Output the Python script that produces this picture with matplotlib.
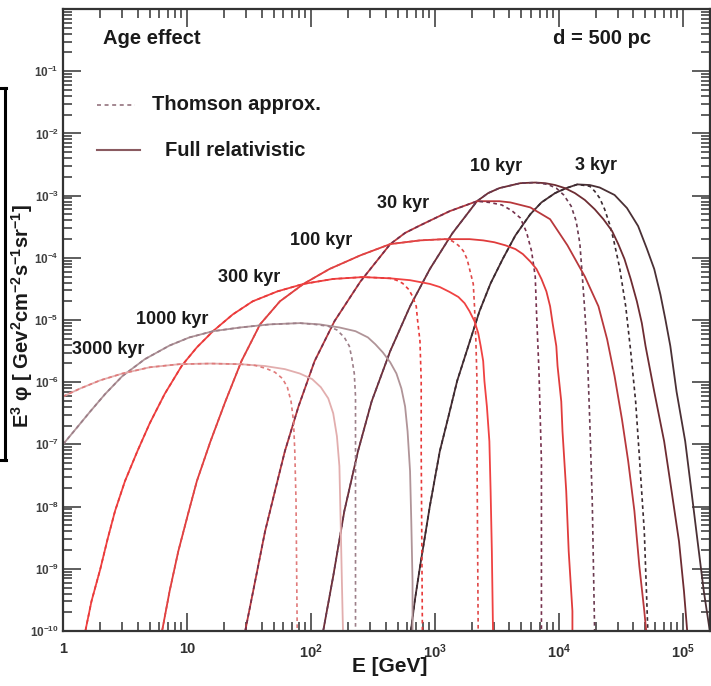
import numpy as np
import matplotlib
matplotlib.use('Agg')
import matplotlib.pyplot as plt
from matplotlib.lines import Line2D
from matplotlib.ticker import LogLocator, NullFormatter

plt.rcParams['font.family'] = ['Liberation Sans', 'DejaVu Sans']
plt.rcParams['font.weight'] = 'bold'
plt.rcParams['mathtext.fontset'] = 'custom'
plt.rcParams['mathtext.rm'] = 'Liberation Sans:bold'
plt.rcParams['mathtext.it'] = 'Liberation Sans:bold'
plt.rcParams['mathtext.bf'] = 'Liberation Sans:bold'
plt.rcParams['mathtext.default'] = 'rm'

# digitised curves: log10(E / GeV) and log10(E^3 phi)
# "rise" is common to both calculations, "full" = Klein-Nishina tail, "thom" = Thomson tail

# 3 kyr
lgE_3_rise = [2.80, 2.84, 2.88, 2.96, 3.04, 3.11, 3.18, 3.27, 3.36, 3.45, 3.55, 3.65, 3.77, 3.86, 3.97, 4.06, 4.15]
lgF_3_rise = [-10.1, -9.49, -8.97, -7.99, -7.11, -6.55, -5.98, -5.42, -4.86, -4.41, -4.01, -3.64, -3.30, -3.11,
              -2.96, -2.88, -2.82]
lgE_3_full = [4.25, 4.33, 4.45, 4.55, 4.64, 4.71, 4.77, 4.82, 4.86, 4.90, 4.95, 5.02, 5.07, 5.12, 5.17, 5.22, 5.25]
lgF_3_full = [-2.83, -2.87, -2.99, -3.20, -3.49, -3.85, -4.18, -4.59, -4.99, -5.42, -6.15, -6.95, -7.75, -8.56,
              -9.36, -10.02, -10.5]
lgE_3_thom = [4.25, 4.29, 4.33, 4.37, 4.41, 4.44, 4.49, 4.54, 4.58, 4.62, 4.65, 4.69, 4.71, 4.72]
lgF_3_thom = [-2.85, -2.93, -3.04, -3.22, -3.46, -3.69, -4.15, -4.78, -5.50, -6.31, -7.19, -8.40, -9.52, -10.1]

# 10 kyr
lgE_10_rise = [2.09, 2.18, 2.27, 2.38, 2.49, 2.64, 2.80, 2.96, 3.14, 3.34, 3.43, 3.52, 3.69, 3.81]
lgF_10_rise = [-10.1, -9.12, -8.07, -7.11, -6.31, -5.50, -4.78, -4.18, -3.61, -3.09, -2.96, -2.88, -2.80, -2.79]
lgE_10_full = [3.89, 3.97, 4.05, 4.13, 4.21, 4.29, 4.36, 4.43, 4.48, 4.53, 4.58, 4.63, 4.67, 4.70, 4.77, 4.85,
               4.91, 4.97, 5.01, 5.04]
lgF_10_full = [-2.80, -2.83, -2.88, -2.96, -3.07, -3.22, -3.38, -3.57, -3.78, -4.02, -4.34, -4.70, -5.05, -5.42,
               -6.15, -6.95, -7.75, -8.56, -9.36, -10.1]
lgE_10_thom = [3.91, 3.98, 4.04, 4.10, 4.14, 4.17, 4.19, 4.21, 4.23, 4.25, 4.27, 4.29]
lgF_10_thom = [-2.82, -2.88, -2.99, -3.17, -3.41, -3.77, -4.30, -4.86, -5.50, -6.63, -7.91, -10.1]

# 30 kyr
lgE_30_rise = [1.46, 1.55, 1.63, 1.71, 1.79, 1.90, 2.03, 2.19, 2.40, 2.64, 2.76, 2.88, 3.12, 3.34]
lgF_30_rise = [-10.1, -9.20, -8.40, -7.75, -7.11, -6.39, -5.66, -5.02, -4.38, -3.78, -3.60, -3.48, -3.25, -3.09]
lgE_30_full = [3.52, 3.61, 3.77, 3.93, 4.07, 4.21, 4.32, 4.39, 4.45, 4.51, 4.56, 4.61, 4.65, 4.69, 4.71]
lgF_30_full = [-3.09, -3.11, -3.19, -3.38, -3.80, -4.30, -4.78, -5.31, -5.90, -6.60, -7.27, -8.07, -8.96, -9.68,
               -10.1]
lgE_30_thom = [3.44, 3.54, 3.62, 3.69, 3.74, 3.78, 3.81, 3.82, 3.84, 3.86, 3.86]
lgF_30_thom = [-3.11, -3.15, -3.24, -3.36, -3.59, -3.89, -4.30, -4.86, -5.82, -7.27, -10.1]

# 100 kyr
lgE_100_rise = [0.79, 0.86, 0.93, 1.01, 1.08, 1.19, 1.31, 1.44, 1.59, 1.75, 1.94, 2.15, 2.40, 2.64, 2.88, 3.08]
lgF_100_rise = [-10.1, -9.36, -8.72, -8.11, -7.59, -6.95, -6.31, -5.66, -5.07, -4.70, -4.42, -4.18, -3.96, -3.78,
                -3.72, -3.70]
lgE_100_full = [3.28, 3.39, 3.48, 3.57, 3.65, 3.71, 3.77, 3.82, 3.86, 3.90, 3.93, 3.95, 3.98, 3.99, 4.02, 4.03,
                4.06, 4.08, 4.11, 4.11]
lgF_100_full = [-3.70, -3.72, -3.75, -3.80, -3.86, -3.94, -4.06, -4.18, -4.34, -4.54, -4.78, -5.05, -5.42, -5.74,
                -6.31, -6.79, -7.75, -8.72, -9.68, -10.1]
lgE_100_thom = [3.14, 3.19, 3.23, 3.26, 3.28, 3.31, 3.32, 3.33, 3.34, 3.34, 3.35]
lgF_100_thom = [-3.73, -3.80, -3.89, -4.02, -4.18, -4.42, -4.78, -5.26, -5.98, -7.11, -10.1]

# 300 kyr
lgE_300_rise = [0.17, 0.23, 0.30, 0.36, 0.42, 0.50, 0.60, 0.70, 0.82, 0.96, 1.08, 1.21, 1.37,
                1.53, 1.73, 1.94, 2.18, 2.42, 2.64]
lgF_300_rise = [-10.1, -9.52, -9.01, -8.52, -8.07, -7.59, -7.11, -6.66, -6.19, -5.73, -5.44, -5.18, -4.91,
                -4.70, -4.54, -4.42, -4.34, -4.31, -4.33]
lgE_300_full = [2.80, 2.96, 3.04, 3.12, 3.19, 3.24, 3.28, 3.32, 3.35, 3.37, 3.39, 3.40, 3.42, 3.44, 3.45, 3.46, 3.47]
lgF_300_full = [-4.36, -4.42, -4.47, -4.55, -4.63, -4.73, -4.86, -5.02, -5.21, -5.42, -5.66, -5.98, -6.39, -6.95,
                -7.75, -8.72, -10.1]
lgE_300_thom = [2.69, 2.74, 2.79, 2.82, 2.85, 2.86, 2.88, 2.89, 2.89, 2.90]
lgF_300_thom = [-4.36, -4.41, -4.51, -4.62, -4.78, -4.99, -5.34, -5.98, -7.11, -10.1]

# 1000 kyr
lgE_1000_rise = [0.0, 0.10, 0.22, 0.34, 0.48, 0.66, 0.86, 1.02, 1.21, 1.43, 1.67, 1.91]
lgF_1000_rise = [-7.00, -6.76, -6.47, -6.19, -5.90, -5.63, -5.41, -5.28, -5.18, -5.12, -5.07, -5.05]
lgE_1000_full = [2.07, 2.23, 2.36, 2.46, 2.52, 2.58, 2.64, 2.69, 2.73, 2.76, 2.78, 2.80, 2.81, 2.82, 2.82]
lgF_1000_full = [-5.07, -5.12, -5.18, -5.28, -5.39, -5.52, -5.68, -5.86, -6.10, -6.39, -6.79, -7.43, -8.24, -9.20,
                 -10.1]
lgE_1000_thom = [2.03, 2.14, 2.21, 2.27, 2.31, 2.33, 2.35, 2.36, 2.36, 2.36]
lgF_1000_thom = [-5.07, -5.10, -5.16, -5.28, -5.42, -5.61, -5.86, -6.23, -6.95, -10.1]

# 3000 kyr
lgE_3000_rise = [0.0, 0.14, 0.30, 0.48, 0.70, 0.94, 1.19, 1.43]
lgF_3000_rise = [-6.23, -6.10, -5.97, -5.86, -5.76, -5.71, -5.70, -5.71]
lgE_3000_full = [1.63, 1.79, 1.91, 2.01, 2.08, 2.14, 2.18, 2.21, 2.23, 2.24, 2.25, 2.26]
lgF_3000_full = [-5.74, -5.79, -5.86, -5.95, -6.08, -6.26, -6.50, -6.87, -7.35, -8.24, -9.20, -10.1]
lgE_3000_thom = [1.55, 1.64, 1.71, 1.77, 1.81, 1.84, 1.86, 1.87, 1.88, 1.89]
lgF_3000_thom = [-5.73, -5.78, -5.84, -5.94, -6.08, -6.31, -6.63, -7.11, -7.91, -10.1]

ages = ['3 kyr', '10 kyr', '30 kyr', '100 kyr', '300 kyr', '1000 kyr', '3000 kyr']
# where the age labels sit (E in GeV, E^3 phi)
label_E = [2.0e4, 3.1e3, 552, 120, 32, 7.6, 2.3]
label_F = [3.1e-3, 2.9e-3, 7.5e-4, 1.9e-4, 4.9e-5, 1.03e-5, 3.4e-6]

solid_col = ['#4a3035', '#6e2c32', '#b8383c', '#e03c3c', '#f04242', '#b09498', '#e2aeae']
dash_col = ['#3a2a30', '#6a3a50', '#76304c', '#e04848', '#e83a3a', '#9c7e88', '#e07a7a']

curves = [
    (lgE_3_rise, lgF_3_rise, lgE_3_full, lgF_3_full, lgE_3_thom, lgF_3_thom),
    (lgE_10_rise, lgF_10_rise, lgE_10_full, lgF_10_full, lgE_10_thom, lgF_10_thom),
    (lgE_30_rise, lgF_30_rise, lgE_30_full, lgF_30_full, lgE_30_thom, lgF_30_thom),
    (lgE_100_rise, lgF_100_rise, lgE_100_full, lgF_100_full, lgE_100_thom, lgF_100_thom),
    (lgE_300_rise, lgF_300_rise, lgE_300_full, lgF_300_full, lgE_300_thom, lgF_300_thom),
    (lgE_1000_rise, lgF_1000_rise, lgE_1000_full, lgF_1000_full, lgE_1000_thom, lgF_1000_thom),
    (lgE_3000_rise, lgF_3000_rise, lgE_3000_full, lgF_3000_full, lgE_3000_thom, lgF_3000_thom),
]

fig = plt.figure(figsize=(7.11, 6.86), dpi=100)
ax = fig.add_axes([63 / 711, 1 - 631 / 686, 647 / 711, 622 / 686])

for (er, fr, ef, ff, et, ft), cs, cd in zip(curves, solid_col, dash_col):
    ax.plot(10 ** np.r_[er, ef], 10 ** np.r_[fr, ff], color=cs, lw=1.3)
    ax.plot(10 ** np.r_[er, et], 10 ** np.r_[fr, ft], color=cd, lw=1.2, ls=(0, (2.2, 2)))

for name, xe, yf in zip(ages, label_E, label_F):
    ax.text(xe, yf, name, fontsize=13, ha='center', va='center', color='#1a1a1a')

ax.set_xscale('log')
ax.set_yscale('log')
ax.set_xlim(1, 10 ** 5.22)
ax.set_ylim(1e-10, 1)

ax.set_xticks([1, 10, 1e2, 1e3, 1e4, 1e5])
ax.set_xticklabels(['1', '10', r'$10^{2}$', r'$10^{3}$', r'$10^{4}$', r'$10^{5}$'])
ax.set_yticks([10.0 ** k for k in range(-10, 1)])
ax.set_yticklabels([r'$10^{%d}$' % k for k in range(-10, 0)] + [''])
for axis in (ax.xaxis, ax.yaxis):
    axis.set_minor_locator(LogLocator(base=10, subs=np.arange(2, 10), numticks=30))
    axis.set_minor_formatter(NullFormatter())

ax.tick_params(which='both', direction='in', top=True, right=True, width=1.1, color='#333333')
ax.tick_params(which='major', length=13)
ax.tick_params(which='minor', length=6.5)
ax.tick_params(axis='x', labelsize=10.5, pad=8, labelcolor='#303030')
ax.tick_params(axis='y', labelsize=8.5, pad=3, labelcolor='#404040')
for sp in ax.spines.values():
    sp.set_linewidth(1.6)
    sp.set_color('#333333')

# titles inside the frame
ax.text(0.062, 0.952, 'Age effect', transform=ax.transAxes, fontsize=14.5, va='center', color='#1a1a1a')
ax.text(0.757, 0.952, 'd = 500 pc', transform=ax.transAxes, fontsize=14.5, va='center', color='#1a1a1a')

# hand-made legend
ax.plot([0.053, 0.112], [0.846, 0.846], transform=ax.transAxes, color='#9c7e88', lw=1.3, ls=(0, (2.2, 2)))
ax.text(0.137, 0.846, 'Thomson approx.', transform=ax.transAxes, fontsize=14.5, va='center', color='#1a1a1a')
ax.plot([0.053, 0.119], [0.773, 0.773], transform=ax.transAxes, color='#8a5a60', lw=1.5)
ax.text(0.158, 0.772, 'Full relativistic', transform=ax.transAxes, fontsize=14.5, va='center', color='#1a1a1a')

fig.text(22 / 711, 1 - 316 / 686, r'E$^{3}$ φ [ Gev$^{2}$cm$^{-2}$s$^{-1}$sr$^{-1}$]',
         rotation=90, ha='center', va='center', fontsize=14.5, color='#1a1a1a')
fig.text(390 / 711, 1 - 667 / 686, 'E [GeV]', ha='center', va='center', fontsize=15, color='#1a1a1a')

# bracket left over on the image edge
for xs, ys in (([0, 6], [88, 88]), ([5, 5], [88, 460]), ([0, 6], [460, 460])):
    fig.add_artist(Line2D([x / 711 for x in xs], [1 - y / 686 for y in ys], color='black', lw=2.2))

fig.savefig('out.png', dpi=100)
